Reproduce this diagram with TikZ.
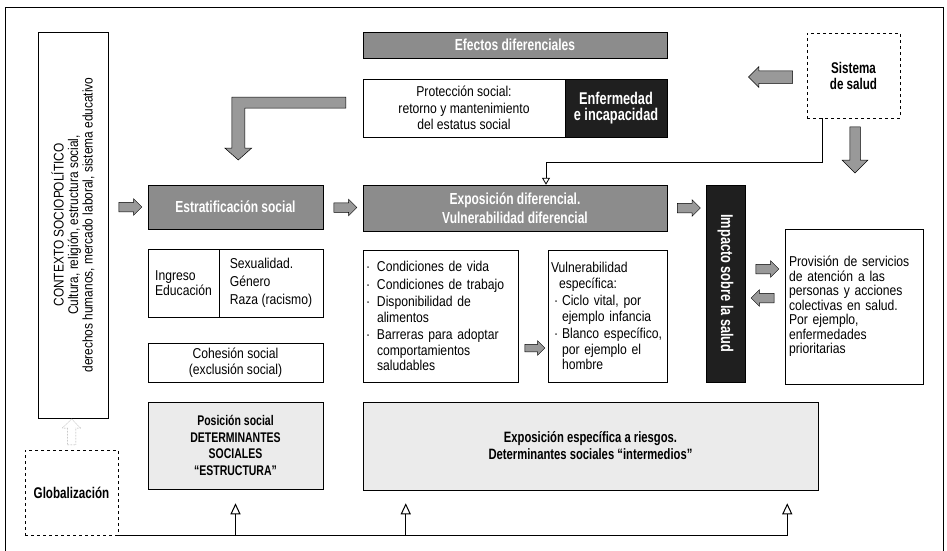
\documentclass[tikz,border=0pt]{standalone}
\usepackage{fontspec}
\setmainfont{Liberation Sans}[FakeStretch=0.85]
\newfontfamily\negrita{Liberation Sans Bold}[FakeStretch=0.75]
\usetikzlibrary{shapes.arrows,arrows.meta,calc}
\newcommand{\pto}{\makebox[11pt][l]{·}}
\newcommand{\sng}{\hspace*{11pt}}

\begin{document}
\begin{tikzpicture}[x=1pt,y=-1pt,
   caja/.style={draw, line width=0.5pt, inner sep=3pt, font=\fontsize{14.3}{15.5}\selectfont},
   banda/.style={draw, line width=0.5pt, fill=black!45, text=white, align=center, font=\negrita\fontsize{16}{18.5}\selectfont},
   negra/.style={draw, line width=0.5pt, fill=black!88, text=white, align=center, font=\negrita\fontsize{17}{16}\selectfont},
   clara/.style={draw, line width=0.5pt, fill=black!8, align=center, font=\negrita\fontsize{14}{16.5}\selectfont},
   punteada/.style={draw, dashed, line width=0.6pt, align=center, font=\negrita\fontsize{15.5}{16}\selectfont},
   flecha/.style={single arrow, draw, line width=0.5pt, fill=black!40, inner sep=4.5pt,
                  single arrow head extend=3.5pt, minimum width=16pt, minimum height=23pt},
   bloque/.style={draw, line width=0.5pt, fill=black!40},
   enlace/.style={line width=0.8pt, -{Triangle[open,length=7pt,width=8pt]}},
   linea/.style={line width=1pt, -{Triangle[open,length=11pt,width=10pt]}}]

   \useasboundingbox (0,0) rectangle (947,551);
   \draw[line width=0.7pt] (5,551) -- (5,7) -- (943,7) -- (943,551);

   % columna izquierda
   \node[caja, rotate=90, minimum width=386pt, minimum height=70pt, align=center, font=\fontsize{14}{14.5}\selectfont] (contexto) at (73,225)
      {CONTEXTO SOCIOPOLÍTICO\\Cultura, religión, estructura social,\\derechos humanos, mercado laboral, sistema educativo};
   \node[punteada, minimum width=93pt, minimum height=85pt] (globalizacion) at (71.5,492.5) {Globalización};

   % parte superior
   \node[banda, minimum width=304pt, minimum height=26pt] (efectos) at (515,45) {Efectos diferenciales};
   \node[caja, minimum width=202pt, minimum height=58pt, align=center, font=\fontsize{14.3}{16.5}\selectfont] (proteccion) at (464,108)
      {Protección social:\\retorno y mantenimiento\\del estatus social};
   \node[negra, minimum width=102pt, minimum height=58pt] (enfermedad) at (616,108) {Enfermedad\\e incapacidad};
   \node[punteada, minimum width=93pt, minimum height=85pt] (sistema) at (853.5,75.5) {Sistema\\de salud};

   % estructura
   \node[banda, minimum width=175pt, minimum height=44pt] (estratificacion) at (235.5,207) {Estratificación social};
   \node[caja, minimum width=71pt, minimum height=68pt, align=left] (ingreso) at (183.5,283) {Ingreso\\Educación};
   \node[caja, minimum width=104pt, minimum height=68pt, align=left, font=\fontsize{14.3}{18}\selectfont] (sexualidad) at (271,283)
      {Sexualidad.\\Género\\Raza (racismo)};
   \node[caja, minimum width=175pt, minimum height=39pt, align=center] (cohesion) at (235.5,362.5)
      {Cohesión social\\(exclusión social)};
   \node[clara, minimum width=175pt, minimum height=87pt] (posicion) at (235.5,445.5)
      {Posición social\\DETERMINANTES\\SOCIALES\\“ESTRUCTURA”};

   % intermedios
   \node[banda, minimum width=304pt, minimum height=46pt] (exposicion) at (515,208)
      {Exposición diferencial.\\Vulnerabilidad diferencial};
   \node[caja, minimum width=155pt, minimum height=132pt, text width=149pt, align=left] (condiciones) at (440.5,316)
      {\pto Condiciones de vida\\[2pt]
       \pto Condiciones de trabajo\\[2pt]
       \pto Disponibilidad de\\\sng alimentos\\[2pt]
       \pto Barreras para adoptar\\\sng comportamientos\\\sng saludables};
   \node[caja, minimum width=119pt, minimum height=132pt, text width=113pt, align=left] (vulnerabilidad) at (607.5,316)
      {Vulnerabilidad\\\hspace*{8pt}específica:\\[2pt]
       \hspace*{3pt}\makebox[8pt][l]{·}Ciclo vital, por\\\hspace*{11pt}ejemplo infancia\\[2pt]
       \hspace*{3pt}\makebox[8pt][l]{·}Blanco específico,\\\hspace*{11pt}por ejemplo el\\\hspace*{11pt}hombre};
   \node[clara, minimum width=455pt, minimum height=88pt, font=\negrita\fontsize{15}{17}\selectfont] (especifica) at (590.5,446)
      {Exposición específica a riesgos.\\Determinantes sociales “intermedios”};

   % salud
   \node[negra, rotate=-90, minimum width=197pt, minimum height=39pt] (impacto) at (725.5,283.5) {Impacto sobre la salud};
   \node[caja, minimum width=138pt, minimum height=155pt, text width=130pt, align=left, font=\fontsize{14.3}{14.5}\selectfont] (provision) at (854,306.5)
      {Provisión de servicios\\de atención a las\\personas y acciones\\colectivas en salud.\\Por ejemplo,\\enfermedades\\prioritarias};

   % flechas gruesas
   \node[flecha] (f1) at ($(contexto.south |- estratificacion.west)!0.5!(estratificacion.west)$) {};
   \node[flecha] (f2) at ($(estratificacion.east)!0.5!(exposicion.west)$) {};
   \node[flecha] (f3) at ($(exposicion.east)!0.5!(impacto.south |- exposicion.east)$) {};
   \node[flecha, yshift=-32pt, minimum height=20pt, minimum width=14pt, inner sep=3.5pt] (f4)
      at ($(condiciones.east)!0.5!(vulnerabilidad.west)$) {};
   \node[flecha, yshift=14.5pt] (f5) at ($(impacto.north)!0.5!(provision.west |- impacto.north)$) {};
   \node[flecha, yshift=-14.5pt, shape border rotate=180] (f6) at ($(impacto.north)!0.5!(provision.west |- impacto.north)$) {};
   \node[flecha, shape border rotate=180, inner sep=6pt, single arrow head extend=4pt, minimum width=20pt, minimum height=44pt] (f7)
      at ([xshift=-33pt,yshift=-1.5pt]sistema.west) {};
   \node[flecha, shape border rotate=270, inner sep=5pt, single arrow head extend=7.5pt, minimum width=25pt, minimum height=46pt] (f8)
      at ([xshift=1.5pt,yshift=-29pt]sistema.south) {};
   \node[flecha, shape border rotate=90, draw=black!50, densely dotted, fill=white, inner sep=4pt,
         single arrow head extend=5pt, minimum width=18pt, minimum height=26pt] (f9)
      at ($(globalizacion.north)!0.5!(contexto.west -| globalizacion.north)$) {};

   \draw[bloque] ([xshift=-17pt]proteccion.west) -- ++(0,-11) -- ++(-114,0) -- ++(0,51) -- ++(-7,0)
      -- ++(13.5,12) -- ++(13.5,-12) -- ++(-7,0) -- ++(0,-40) -- cycle;

   % conectores finos
   \draw[enlace] ([xshift=-31.5pt]sistema.south) -- ++(0,44) -| ([xshift=31pt]exposicion.north);

   \coordinate (p1) at ([yshift=-14pt]posicion.south);
   \coordinate (p2) at ([xshift=43pt,yshift=-13pt]especifica.south west);
   \coordinate (p3) at ([xshift=-31pt,yshift=-13pt]especifica.south east);
   \draw[linea] (globalizacion.south east) -| (p3);
   \draw[linea] (p1 |- globalizacion.south) -- (p1);
   \draw[linea] (p2 |- globalizacion.south) -- (p2);
\end{tikzpicture}
\end{document}
